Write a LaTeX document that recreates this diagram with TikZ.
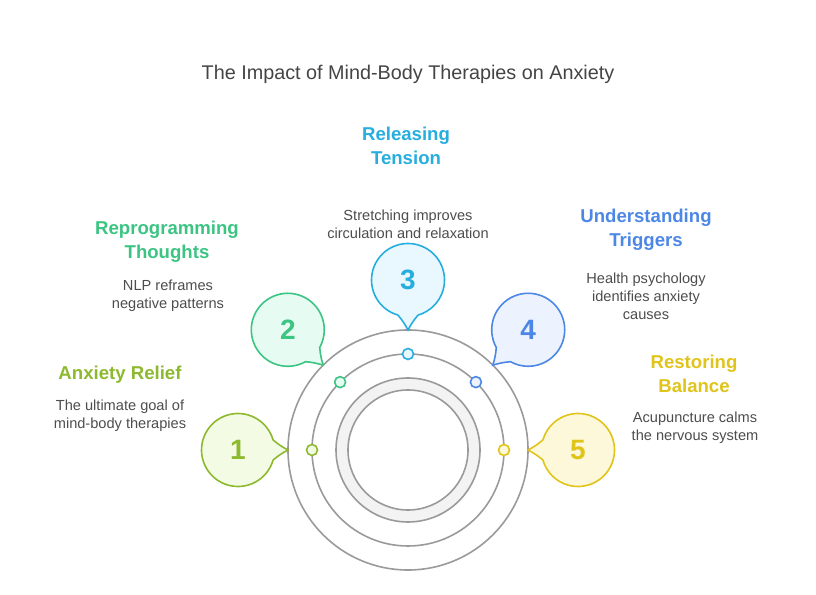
\documentclass[tikz,border=0pt]{standalone}
\usepackage{fontspec}
\setmainfont{Liberation Sans}
\definecolor{cA}{HTML}{8DB92E}\definecolor{cAl}{HTML}{F3FBE5}
\definecolor{cB}{HTML}{3CC483}\definecolor{cBl}{HTML}{E6FCF2}
\definecolor{cC}{HTML}{27AEDF}\definecolor{cCl}{HTML}{E9F8FE}
\definecolor{cD}{HTML}{4D87E6}\definecolor{cDl}{HTML}{EDF3FE}
\definecolor{cE}{HTML}{E0C41A}\definecolor{cEl}{HTML}{FEF8DA}
\definecolor{ringgray}{HTML}{9A9A9A}
\definecolor{ringfill}{HTML}{F3F3F3}
\definecolor{txt}{HTML}{4D4D4D}
\definecolor{ttl}{HTML}{444444}
\tikzset{
  ringline/.style={draw=ringgray,line width=1.6pt},
  bigcircle/.style={circle,ringline,inner sep=0pt,outer sep=0pt},
  dotnode/.style={circle,line width=1.6pt,inner sep=0pt,minimum size=11pt},
  bubble/.style={line width=1.6pt},
  numtext/.style={font=\fontsize{28}{30}\selectfont\bfseries},
  headtext/.style={font=\fontsize{18.6}{24}\selectfont\bfseries,align=center},
  desctext/.style={font=\fontsize{14.6}{18}\selectfont,text=txt,align=center},
}
\begin{document}
\begin{tikzpicture}[x=1pt,y=1pt]
\useasboundingbox (0,0) rectangle (816,594);
\node[font=\fontsize{19.8}{22}\selectfont,text=ttl] (title) at (408,520) {The Impact of Mind-Body Therapies on Anxiety};
\coordinate (O) at (408,144);
% rings
\node[bigcircle,minimum size=240pt] (outer) at (O) {};
\node[bigcircle,minimum size=192pt] (middle) at (O) {};
\path[fill=ringfill,even odd rule] (O) circle[radius=72] (O) circle[radius=60];
\node[bigcircle,minimum size=144pt] (ringout) at (O) {};
\node[bigcircle,minimum size=120pt] (ringin) at (O) {};
% bubbles and dots
\foreach \a/\c/\n in {180/cA/1,135/cB/2,90/cC/3,45/cD/4,0/cE/5}{
  \coordinate (B\n) at ([shift={(\a:170)}]O);
  \coordinate (T\n) at ([shift={(\a:120)}]O);
  \path[bubble,draw=\c,fill=\c l]
    ([shift={({\a+180+16}:36.5)}]B\n) to[bend right=6] (T\n) to[bend right=6] ([shift={({\a+180-16}:36.5)}]B\n)
    arc[start angle={\a+180-16},delta angle=-328,radius=36.5] -- cycle;
  \node[numtext,text=\c] (n\n) at (B\n) {\n};
  \node[dotnode,draw=\c,fill=\c l] (d\n) at ([shift={(\a:96)}]O) {};
}
% texts
\node[headtext,text=cA] (h1) at (120,219) {Anxiety Relief};
\node[desctext] (t1) at (120,178) {The ultimate goal of\\mind-body therapies};
\node[headtext,text=cB] (h2) at (167,352) {Reprogramming\\Thoughts};
\node[desctext] (t2) at (168,298) {NLP reframes\\negative patterns};
\node[headtext,text=cC] (h3) at (406,448) {Releasing\\Tension};
\node[desctext] (t3) at (408,370) {Stretching improves\\circulation and relaxation};
\node[headtext,text=cD] (h4) at (646,364) {Understanding\\Triggers};
\node[desctext] (t4) at (646,298) {Health psychology\\identifies anxiety\\causes};
\node[headtext,text=cE] (h5) at (694,220) {Restoring\\Balance};
\node[desctext] (t5) at (695,166) {Acupuncture calms\\the nervous system};
\end{tikzpicture}
\end{document}
